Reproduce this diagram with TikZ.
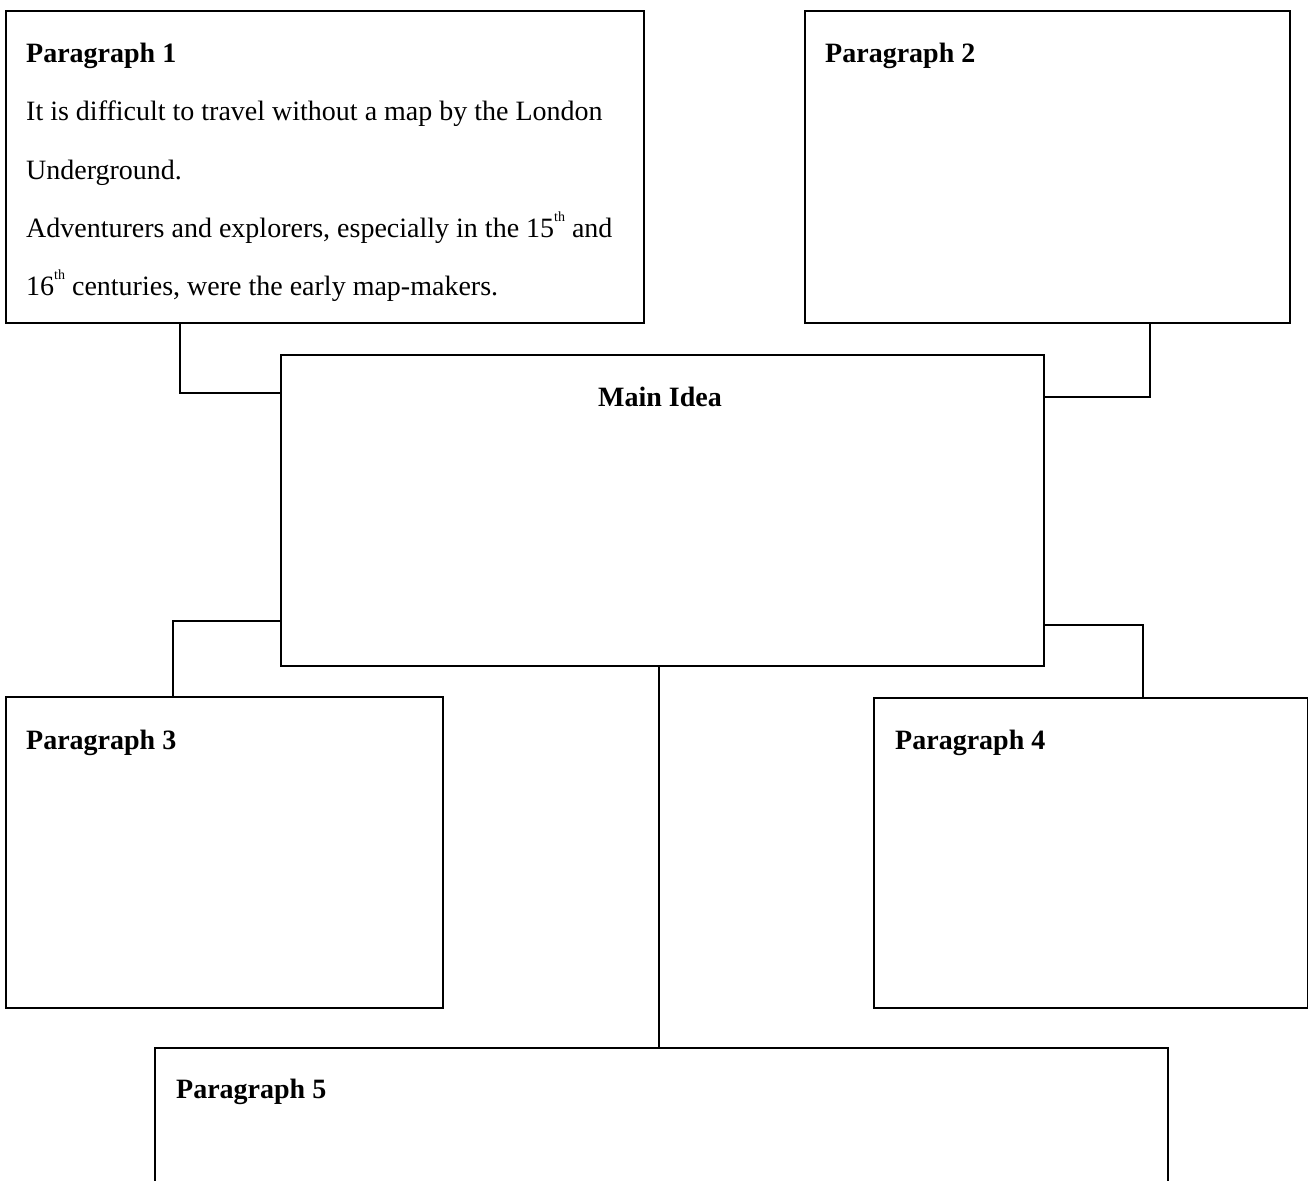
\documentclass[tikz,border=0pt]{standalone}
\usepackage{fontspec}
\setmainfont{Liberation Serif}
\newcommand{\supth}{\raisebox{0.55em}{\fontsize{14}{14}\selectfont th}}
\begin{document}
\begin{tikzpicture}[x=1pt,y=-1pt,
  box/.style={draw=black,line width=1.6pt,rectangle,inner sep=0pt,anchor=north west},
  wire/.style={draw=black,line width=1.6pt},
  txt/.style={anchor=base west,inner sep=0pt,font=\fontsize{28}{32}\selectfont},
  head/.style={txt,font=\fontsize{28}{32}\selectfont\bfseries}]
\useasboundingbox (0,0) rectangle (1308,1180);
\clip (0,0) rectangle (1308,1180);
% boxes
\node[box,minimum width=638pt,minimum height=312pt] (p1) at (5,10) {};
\node[box,minimum width=485pt,minimum height=312pt] (p2) at (804,10) {};
\node[box,minimum width=763pt,minimum height=311pt] (main) at (280,354) {};
\node[box,minimum width=437pt,minimum height=311pt] (p3) at (5,696) {};
\node[box,minimum width=434pt,minimum height=310pt] (p4) at (873,697) {};
\node[box,minimum width=1013pt,minimum height=200pt] (p5) at (154,1047) {};
% connectors
\coordinate (c1) at (180,393);
\coordinate (c2) at (1150,397);
\coordinate (c3) at (173,621);
\coordinate (c4) at (1143,625);
\draw[wire] (p1.south west -| c1) -- (c1) -- (c1 -| main.west);
\draw[wire] (p2.south west -| c2) -- (c2) -- (c2 -| main.east);
\draw[wire] (c3 -| main.west) -- (c3) -- (c3 |- p3.north);
\draw[wire] (c4 -| main.east) -- (c4) -- (c4 |- p4.north);
\draw[wire] (659,665) coordinate (m5) -- (m5 |- p5.north);
% texts
\node[head] (t1) at (26,63) {Paragraph 1};
\node[txt] (l1) at (26,121) {It is difficult to travel without a map by the London};
\node[txt] (l2) at (26,179) {Underground.};
\node[txt] (l3) at (26,237) {Adventurers and explorers, especially in the 15\supth{} and};
\node[txt] (l4) at (26,295) {16\supth{} centuries, were the early map-makers.};
\node[head] (t2) at (825,63) {Paragraph 2};
\node[head,anchor=base] (tm) at (660,406) {Main Idea};
\node[head] (t3) at (26,749) {Paragraph 3};
\node[head] (t4) at (895,749) {Paragraph 4};
\node[head] (t5) at (176,1098) {Paragraph 5};
\end{tikzpicture}
\end{document}
